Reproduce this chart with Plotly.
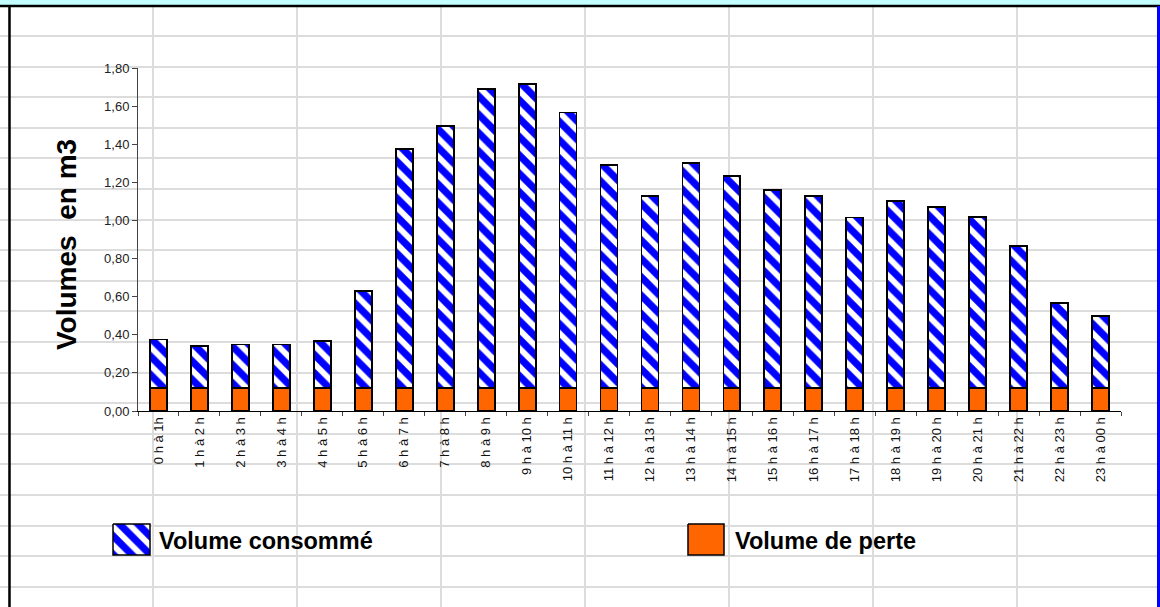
import plotly.graph_objects as go

# Hourly volumes (m3)
hours = ["0 h à 1h", "1 h à 2 h", "2 h à 3 h", "3 h à 4 h", "4 h à 5 h", "5 h à 6 h",
         "6 h à 7 h", "7 h à 8 h", "8 h à 9 h", "9 h à 10 h", "10 h à 11 h", "11 h à 12 h",
         "12 h à 13 h", "13 h à 14 h", "14 h à 15 h", "15 h à 16 h", "16 h à 17 h",
         "17 h à 18 h", "18 h à 19 h", "19 h à 20 h", "20 h à 21 h", "21 h à 22 h",
         "22 h à 23 h", "23 h à 00 h"]
volume_perte = [0.12] * 24
volume_consomme = [0.255, 0.22, 0.229, 0.229, 0.246, 0.51, 1.255, 1.376, 1.57, 1.595,
                   1.446, 1.171, 1.01, 1.18, 1.115, 1.04, 1.01, 0.895, 0.98, 0.95,
                   0.90, 0.746, 0.447, 0.377]
y_ticks = [0.0, 0.2, 0.4, 0.6, 0.8, 1.0, 1.2, 1.4, 1.6, 1.8]

W, H = 1160, 607
FONT = "Liberation Sans, Arial, sans-serif"
BLUE = "#0000FF"
ORANGE = "#FF6600"
STRIPES = dict(shape="\\", fgcolor=BLUE, bgcolor="white", size=13, solidity=0.55)

fig = go.Figure()

# Chart bars (stacked: loss at the bottom, consumption on top)
fig.add_trace(go.Bar(
    x=hours, y=volume_perte, name="Volume de perte", xaxis="x2", yaxis="y2",
    marker=dict(color=ORANGE, line=dict(color="black", width=1.8)),
    showlegend=False,
))
fig.add_trace(go.Bar(
    x=hours, y=volume_consomme, name="Volume consommé", xaxis="x2", yaxis="y2",
    marker=dict(color="white", pattern=STRIPES, line=dict(color="black", width=1.8)),
    showlegend=False,
))

# Legend swatches drawn on the sheet (pixel) axes
def swatch(x0, y0, w, h, **kw):
    return go.Scatter(x=[x0, x0 + w, x0 + w, x0, x0], y=[y0, y0, y0 + h, y0 + h, y0],
                      mode="lines", fill="toself", line=dict(color="black", width=1.5),
                      hoverinfo="skip", showlegend=False, xaxis="x", yaxis="y", **kw)

fig.add_trace(swatch(113, 524, 37, 31, fillcolor="white", fillpattern=STRIPES))
fig.add_trace(swatch(688, 524, 36, 31, fillcolor=ORANGE))

annotations = [
    dict(text="<b>Volume consommé</b>", x=157, y=541, xref="x", yref="y",
         xanchor="left", yanchor="middle", showarrow=False,
         font=dict(family=FONT, size=23.5, color="black")),
    dict(text="<b>Volume de perte</b>", x=733, y=541, xref="x", yref="y",
         xanchor="left", yanchor="middle", showarrow=False,
         font=dict(family=FONT, size=23.5, color="black")),
    dict(text="<b>Volumes  en m3</b>", x=66, y=245, xref="x", yref="y",
         textangle=-90, xanchor="center", yanchor="middle", showarrow=False,
         font=dict(family=FONT, size=28, color="black")),
]

shapes = [
    # window chrome: cyan strip, black frame lines, blue right border
    dict(type="rect", xref="paper", yref="paper", x0=0, x1=1, y0=1 - 5 / H, y1=1,
         fillcolor="#C4FFFF", line=dict(width=0)),
    dict(type="line", xref="paper", yref="paper", x0=0, x1=1, y0=1 - 6 / H, y1=1 - 6 / H,
         line=dict(color="black", width=2.5)),
    dict(type="line", xref="paper", yref="paper", x0=9.5 / W, x1=9.5 / W, y0=0, y1=1 - 6 / H,
         line=dict(color="black", width=2.5)),
    dict(type="rect", xref="paper", yref="paper", x0=1157 / W, x1=1, y0=0, y1=1 - 6 / H,
         fillcolor=BLUE, line=dict(width=0)),
]

fig.update_layout(
    template="none",
    width=W, height=H,
    margin=dict(l=0, r=0, t=0, b=0, pad=0, autoexpand=False),
    paper_bgcolor="white",
    plot_bgcolor="rgba(0,0,0,0)",
    separators=", ",
    barmode="stack",
    bargap=0.585,
    showlegend=False,
    font=dict(family=FONT),
    annotations=annotations,
    shapes=shapes,
    # spreadsheet cell grid (pixel coordinates)
    xaxis=dict(domain=[0, 1], range=[0, W], showgrid=True, gridcolor="#DCDCDC",
               gridwidth=2, tick0=153, dtick=144, showticklabels=False,
               zeroline=False, ticks="", showline=False, automargin=False,
               fixedrange=True),
    yaxis=dict(domain=[0, 1], range=[H, 0], showgrid=True, gridcolor="#DCDCDC",
               gridwidth=2, tick0=36, dtick=30.6, showticklabels=False,
               zeroline=False, ticks="", showline=False, automargin=False,
               fixedrange=True),
    # chart axes
    xaxis2=dict(domain=[138 / W, 1121 / W], anchor="y2", type="category",
                range=[-0.5, 23.5], showline=True, linecolor="black", linewidth=1,
                ticks="outside", ticklen=4, tickcolor="#444", tickson="boundaries",
                tickangle=-90, showgrid=False, zeroline=False, automargin=False,
                tickfont=dict(family=FONT, size=13, color="#111")),
    yaxis2=dict(domain=[(H - 411) / H, (H - 68) / H], anchor="x2",
                range=[0, 1.8], tickvals=y_ticks, tickformat=".2f",
                showline=True, linecolor="#444", linewidth=1,
                ticks="outside", ticklen=5, tickcolor="#444",
                showgrid=False, zeroline=False, automargin=False,
                tickfont=dict(family=FONT, size=13, color="#222")),
)

fig.write_html("out.html")
